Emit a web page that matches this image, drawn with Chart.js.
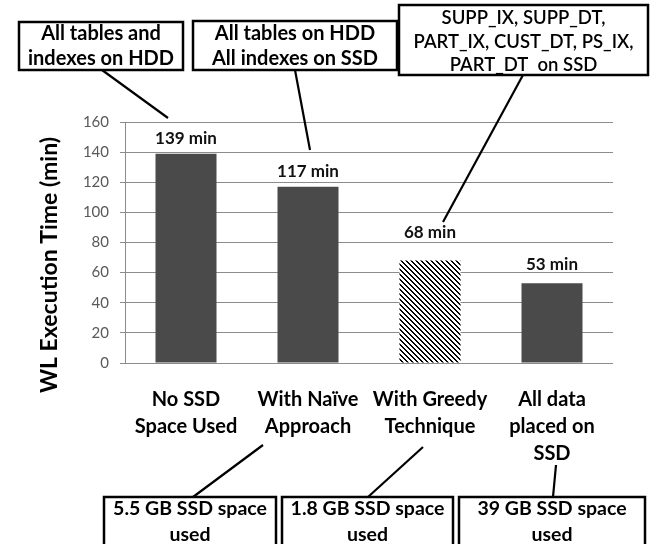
<!DOCTYPE html>
<html>
<head>
<meta charset="utf-8">
<script src="https://cdn.jsdelivr.net/npm/chart.js@4/dist/chart.umd.min.js"></script>
<style>
  html, body { margin: 0; padding: 0; background: #ffffff; }
  #wrap { width: 663px; height: 544px; position: relative; }
</style>
</head>
<body>
<div id="wrap"><canvas id="chart" width="663" height="544"></canvas></div>
<script>
// Workload execution time for each data-placement strategy
const categories = [
  ['No SSD', 'Space Used'],
  ['With Naïve', 'Approach'],
  ['With Greedy', 'Technique'],
  ['All data', 'placed on', 'SSD']
];
const execMinutes = [139, 117, 68, 53];
const valueUnit = 'min';
const yMin = 0;
const yMax = 160;
const yStep = 20;
const yTitle = 'WL Execution Time (min)';

// Callout texts: placement above, SSD space used below
const placementNotes = [
  ['All tables and', 'indexes on HDD'],
  ['All tables on HDD', 'All indexes on SSD'],
  ['SUPP_IX, SUPP_DT,', 'PART_IX, CUST_DT, PS_IX,', 'PART_DT  on SSD']
];
const ssdSpaceNotes = [
  ['5.5 GB SSD space', 'used'],
  ['1.8 GB SSD space', 'used'],
  ['39 GB SSD space', 'used']
];

const FONT = 'Lato, "Open Sans", sans-serif';
const BAR_DARK = '#4a4a4a';
const GRID = '#8c8c8c';

// Diagonal black/white hatching for the greedy-technique bar
function makeHatch() {
  const s = 5;
  const c = document.createElement('canvas');
  c.width = s; c.height = s;
  const g = c.getContext('2d');
  const img = g.createImageData(s, s);
  for (let y = 0; y < s; y++) {
    for (let x = 0; x < s; x++) {
      const k = ((x - y) % s + s) % s;
      const v = (k === 0 || k === 1) ? 0 : 255;
      const i = (y * s + x) * 4;
      img.data[i] = v; img.data[i + 1] = v; img.data[i + 2] = v; img.data[i + 3] = 255;
    }
  }
  g.putImageData(img, 0, 0);
  return c;
}

const ctx0 = document.getElementById('chart').getContext('2d');
const hatch = ctx0.createPattern(makeHatch(), 'repeat');
const barFills = [BAR_DARK, BAR_DARK, hatch, BAR_DARK];

// Bar value labels ("139 min")
const valueLabels = {
  id: 'valueLabels',
  afterDatasetsDraw(chart, args, opts) {
    const { ctx } = chart;
    const meta = chart.getDatasetMeta(0);
    ctx.save();
    ctx.font = 'bold 17px ' + FONT;
    ctx.fillStyle = '#111';
    ctx.textAlign = 'center';
    ctx.textBaseline = 'middle';
    meta.data.forEach((bar, i) => {
      const v = chart.data.datasets[0].data[i];
      ctx.fillText(v + ' ' + valueUnit, bar.x, bar.y - opts.gaps[i]);
    });
    ctx.restore();
  }
};

// Rotated y-axis title
const yAxisTitle = {
  id: 'yAxisTitle',
  afterDraw(chart, args, opts) {
    const { ctx } = chart;
    ctx.save();
    ctx.translate(opts.x, opts.y);
    ctx.rotate(-Math.PI / 2);
    ctx.font = 'bold 23px ' + FONT;
    ctx.fillStyle = '#000';
    ctx.textAlign = 'center';
    ctx.textBaseline = 'middle';
    ctx.fillText(yTitle, 0, 0);
    ctx.restore();
  }
};

// Boxed callouts with leader lines
const callouts = {
  id: 'callouts',
  afterDraw(chart, args, opts) {
    const { ctx } = chart;
    ctx.save();
    ctx.strokeStyle = '#000';
    ctx.fillStyle = '#000';
    ctx.lineCap = 'butt';
    opts.boxes.forEach(b => {
      ctx.lineWidth = 2.2;
      ctx.beginPath();
      ctx.moveTo(b.from[0], b.from[1]);
      ctx.lineTo(b.to[0], b.to[1]);
      ctx.stroke();
      ctx.fillStyle = '#fff';
      ctx.fillRect(b.x, b.y, b.w, b.h);
      ctx.lineWidth = 2.5;
      ctx.strokeRect(b.x, b.y, b.w, b.h);
      ctx.fillStyle = '#000';
      ctx.font = b.font;
      ctx.textAlign = 'center';
      ctx.textBaseline = 'middle';
      b.text.forEach((t, k) => ctx.fillText(t, b.x + b.w / 2, b.lineY[k]));
    });
    ctx.restore();
  }
};

const topFont = 'bold 20px ' + FONT;
const bottomFont = 'bold 19.5px ' + FONT;

new Chart(ctx0, {
  type: 'bar',
  data: {
    labels: categories,
    datasets: [{
      data: execMinutes,
      backgroundColor: barFills,
      borderWidth: 0,
      categoryPercentage: 1,
      barPercentage: 0.5
    }]
  },
  options: {
    responsive: false,
    animation: false,
    devicePixelRatio: 1,
    layout: { padding: { top: 122, right: 50, bottom: 0, left: 0 } },
    plugins: {
      legend: { display: false },
      tooltip: { enabled: false },
      title: { display: false },
      valueLabels: { gaps: [15, 15, 28, 19] },
      yAxisTitle: { x: 50, y: 265 },
      callouts: {
        boxes: [
          { x: 19, y: 22, w: 164, h: 48, text: placementNotes[0], lineY: [34, 59], font: topFont, from: [102, 70], to: [168, 118] },
          { x: 193, y: 21, w: 204, h: 49, text: placementNotes[1], lineY: [34, 59], font: topFont, from: [295, 70], to: [310, 150] },
          { x: 399, y: 5, w: 249, h: 70, text: placementNotes[2], lineY: [18, 42, 65], font: '600 18.5px ' + FONT, from: [523, 75], to: [443, 222] },
          { x: 104, y: 497, w: 172, h: 60, text: ssdSpaceNotes[0], lineY: [509, 535], font: bottomFont, from: [263, 445], to: [193, 497] },
          { x: 282, y: 497, w: 171, h: 60, text: ssdSpaceNotes[1], lineY: [509, 535], font: bottomFont, from: [423, 447], to: [368, 497] },
          { x: 459, y: 497, w: 186, h: 60, text: ssdSpaceNotes[2], lineY: [509, 535], font: bottomFont, from: [556, 465], to: [553, 497] }
        ]
      }
    },
    scales: {
      x: {
        grid: { display: false },
        border: { display: false },
        ticks: {
          color: '#000',
          padding: 15,
          maxRotation: 0,
          autoSkip: false,
          font: { family: FONT, size: 20, weight: 'bold', lineHeight: '27px' }
        },
        afterFit(scale) { scale.height = 181; }
      },
      y: {
        min: yMin,
        max: yMax,
        ticks: {
          stepSize: yStep,
          color: '#595959',
          padding: 11,
          font: { family: FONT, size: 15 }
        },
        grid: { color: GRID, lineWidth: 1, drawTicks: true, tickLength: 5, tickColor: GRID },
        border: { display: true, color: GRID, width: 1 },
        afterFit(scale) { scale.width = 125; }
      }
    }
  },
  plugins: [valueLabels, yAxisTitle, callouts]
});
</script>
</body>
</html>
